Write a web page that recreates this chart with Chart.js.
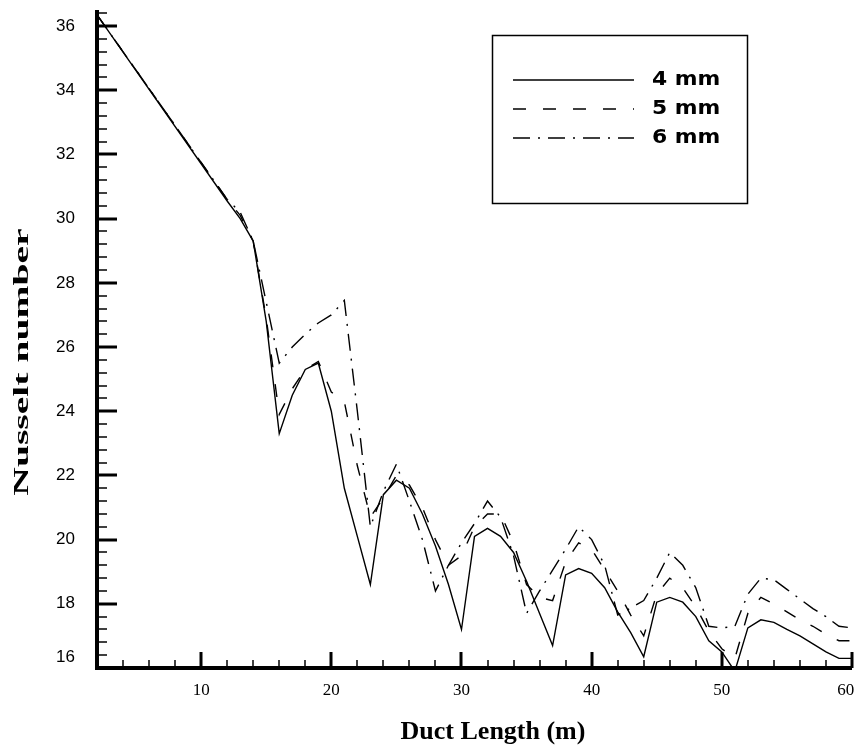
<!DOCTYPE html>
<html lang="en">
<head>
  <meta charset="UTF-8" />
  <title>Nusselt number vs duct length</title>
  <script src="https://cdn.jsdelivr.net/npm/chart.js"></script>
  <style>
    body {
      margin: 0;
      background: #fff;
    }
    canvas {
      display: block;
    }
  </style>
</head>
<body>

  <canvas id="nuChart" width="857" height="748"></canvas>

  <script>
    // duct length (m)
    const xs = [2, 12, 13, 14, 15, 16, 17, 18, 19, 20, 21, 22, 23, 24, 25, 26, 27, 28, 29, 30,
                31, 32, 33, 34, 35, 36, 37, 38, 39, 40, 41, 42, 43, 44, 45, 46, 47, 48, 49, 50,
                51, 52, 53, 54, 55, 56, 57, 58, 59, 60];

    // Nusselt number for each rib height
    const nu4mm = [36.35, 30.55, 30.0, 29.3, 26.8, 23.3, 24.5, 25.3, 25.5, 24.0, 21.6, 20.1, 18.6, 21.4, 21.85, 21.6, 20.8, 19.8, 18.6, 17.2,
                   20.1, 20.35, 20.1, 19.6, 18.7, 17.7, 16.7, 18.9, 19.1, 18.95, 18.5, 17.75, 17.1, 16.35, 18.05, 18.2, 18.05, 17.6, 16.85, 16.5,
                   15.9, 17.25, 17.5, 17.42, 17.2, 17.0, 16.75, 16.5, 16.3, 16.3];
    const nu5mm = [36.35, 30.6, 30.1, 29.3, 26.9, 23.9, 24.7, 25.3, 25.55, 24.6, 24.3, 22.3, 20.7, 21.3, 22.0, 21.7, 21.0, 20.0, 19.2, 19.5,
                   20.4, 20.8, 20.8, 19.9, 18.6, 18.2, 18.1, 19.3, 19.9, 19.7, 19.05, 18.4, 17.65, 17.0, 18.3, 18.8, 18.5, 17.9, 17.15, 16.6,
                   16.3, 17.7, 18.2, 18.0, 17.75, 17.5, 17.3, 17.05, 16.85, 16.85];
    const nu6mm = [36.35, 30.6, 30.2, 29.3, 27.4, 25.5, 26.0, 26.4, 26.75, 27.0, 27.45, 24.0, 20.4, 21.5, 22.35, 21.2, 20.0, 18.4, 19.2, 19.9,
                   20.5, 21.2, 20.7, 19.5, 17.7, 18.4, 19.05, 19.7, 20.4, 20.0, 19.2, 17.65, 17.87, 18.1, 18.8, 19.6, 19.2, 18.5, 17.3, 17.25,
                   17.3, 18.3, 18.8, 18.75, 18.45, 18.15, 17.85, 17.6, 17.3, 17.25];

    const seriesNames = ['4 mm', '5 mm', '6 mm'];
    const xTicks = [10, 20, 30, 40, 50, 60];
    const yTicks = [16, 18, 20, 22, 24, 26, 28, 30, 32, 34, 36];

    function points(ys) {
      return xs.map((x, i) => ({ x: x, y: ys[i] }));
    }

    // axes with inward ticks, titles and the boxed legend
    const framePlugin = {
      id: 'frame',
      afterDraw(chart) {
        const { ctx, chartArea: a, scales } = chart;
        const sx = scales.x, sy = scales.y;
        ctx.save();
        ctx.strokeStyle = '#000';
        ctx.lineCap = 'butt';

        // y ticks: major every 2, minor every 0.4
        for (let i = 0; i <= 51; i++) {
          const py = Math.round(sy.getPixelForValue(16 + i * 0.4));
          const major = i % 5 === 0;
          ctx.lineWidth = major ? 3 : 1.5;
          ctx.beginPath();
          ctx.moveTo(a.left, py);
          ctx.lineTo(a.left + (major ? 20 : 10), py);
          ctx.stroke();
        }
        // x ticks: major every 10, minor every 2
        for (let v = 4; v <= 60; v += 2) {
          const px = Math.round(sx.getPixelForValue(v));
          const major = v % 10 === 0;
          ctx.lineWidth = major ? 3 : 1.5;
          ctx.beginPath();
          ctx.moveTo(px, a.bottom);
          ctx.lineTo(px, a.bottom - (major ? 16 : 8));
          ctx.stroke();
        }
        // axis lines
        ctx.lineWidth = 4;
        ctx.beginPath();
        ctx.moveTo(a.left, a.top);
        ctx.lineTo(a.left, a.bottom);
        ctx.lineTo(a.right, a.bottom);
        ctx.stroke();

        // axis titles
        ctx.fillStyle = '#000';
        ctx.textAlign = 'center';
        ctx.textBaseline = 'middle';
        ctx.font = 'bold 26px "Liberation Serif", "Times New Roman", serif';
        ctx.fillText('Duct Length (m)', 493, 732);
        ctx.save();
        ctx.translate(22, 362);
        ctx.rotate(-Math.PI / 2);
        ctx.scale(1.8, 1);
        ctx.font = 'bold 22px "Liberation Serif", "Times New Roman", serif';
        ctx.fillText('Nusselt number', 0, 0);
        ctx.restore();

        // legend box
        ctx.lineWidth = 1.5;
        ctx.strokeRect(492.5, 35.5, 255, 168);
        ctx.textAlign = 'left';
        chart.data.datasets.forEach((ds, i) => {
          const ly = 80 + i * 29;
          ctx.lineWidth = 1.5;
          ctx.setLineDash(ds.borderDash || []);
          ctx.beginPath();
          ctx.moveTo(513, ly);
          ctx.lineTo(634, ly);
          ctx.stroke();
          ctx.setLineDash([]);
          ctx.save();
          ctx.translate(652, ly);
          ctx.scale(1.15, 1);
          ctx.font = 'bold 19px "DejaVu Sans", Verdana, sans-serif';
          ctx.fillText(ds.label, 0, 0);
          ctx.restore();
        });
        ctx.restore();
      }
    };

    const ctx = document.getElementById('nuChart').getContext('2d');

    new Chart(ctx, {
      type: 'line',
      data: {
        datasets: [
          { label: seriesNames[0], data: points(nu4mm), borderColor: '#000', borderWidth: 1.4, borderDash: [], pointRadius: 0, tension: 0 },
          { label: seriesNames[1], data: points(nu5mm), borderColor: '#000', borderWidth: 1.4, borderDash: [13, 17], pointRadius: 0, tension: 0 },
          { label: seriesNames[2], data: points(nu6mm), borderColor: '#000', borderWidth: 1.4, borderDash: [17, 8, 2, 8], pointRadius: 0, tension: 0 }
        ]
      },
      options: {
        responsive: false,
        animation: false,
        layout: { padding: { top: 10, right: 5, left: 0, bottom: 0 } },
        plugins: {
          legend: { display: false },
          tooltip: { enabled: false }
        },
        scales: {
          x: {
            type: 'linear',
            min: 2,
            max: 60,
            afterBuildTicks: s => { s.ticks = xTicks.map(v => ({ value: v })); },
            afterFit: s => { s.height = 80; s.paddingLeft = 0; s.paddingRight = 0; },
            grid: { display: false, drawTicks: false },
            border: { display: false },
            ticks: {
              padding: 12,
              color: '#000',
              maxRotation: 0,
              // last label kept inside the canvas edge
              callback: v => (v === 60 ? '60   ' : String(v)),
              font: { family: '"Liberation Serif", "Times New Roman", serif', size: 17 }
            }
          },
          y: {
            min: 16,
            max: 36.5,
            afterBuildTicks: s => { s.ticks = yTicks.map(v => ({ value: v })); },
            afterFit: s => { s.width = 97; s.paddingTop = 0; s.paddingBottom = 0; },
            grid: { display: false, drawTicks: false },
            border: { display: false },
            ticks: {
              padding: 22,
              color: '#000',
              // bottom label sits a little above the axis line
              callback: v => (v === 16 ? ['16', ''] : String(v)),
              font: { family: '"Liberation Sans", Arial, sans-serif', size: 17 }
            }
          }
        }
      },
      plugins: [framePlugin]
    });
  </script>

</body>
</html>
